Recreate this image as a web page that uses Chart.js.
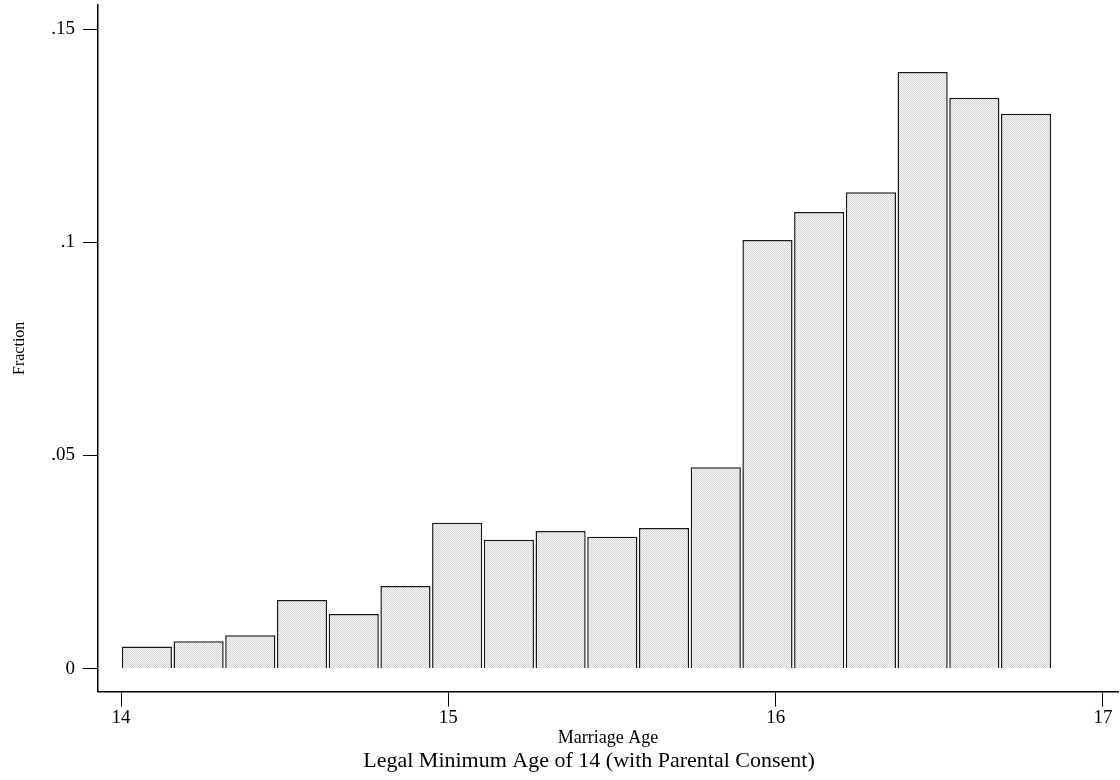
<!DOCTYPE html>
<html>
<head>
<meta charset="utf-8">
<script src="https://cdn.jsdelivr.net/npm/chart.js@4/dist/chart.umd.min.js"></script>
<style>
    html, body { margin: 0; padding: 0; background: #fff; }
    #marriage-age-hist { display: block; }
</style>
</head>
<body>
<canvas id="marriage-age-hist" width="1120" height="780"></canvas>
<script>
// histogram bins (centre of each bin, in years of age)
var binCenters = [14.079, 14.237, 14.395, 14.553, 14.711, 14.869, 15.027, 15.185, 15.343,
    15.501, 15.659, 15.817, 15.975, 16.133, 16.291, 16.449, 16.607, 16.765];
// fraction of marriages in each bin
var fractions = [0.0052, 0.0064, 0.0078, 0.0161, 0.0128, 0.0194, 0.0342, 0.0302, 0.0323,
    0.0309, 0.0330, 0.0472, 0.1005, 0.1071, 0.1117, 0.1399, 0.1339, 0.1301];

var xTicks = [14, 15, 16, 17];
var yTicks = [0, 0.05, 0.1, 0.15];
var yTickLabels = ['0', '.05', '.1', '.15'];

var titleText = 'Legal Minimum Age of 14 (with Parental Consent)';
var xTitle = 'Marriage Age';
var yTitle = 'Fraction';

// little dotted fill like the stata shading
function dotPattern() {
    var c = document.createElement('canvas');
    c.width = 2;
    c.height = 2;
    var g = c.getContext('2d');
    g.fillStyle = '#f7f7f7';
    g.fillRect(0, 0, 2, 2);
    g.fillStyle = '#d4d4d4';
    g.fillRect(0, 0, 1, 1);
    g.fillRect(1, 1, 1, 1);
    return g.createPattern(c, 'repeat');
}

var serif = '"Liberation Serif", "Times New Roman", serif';

// the caption under the plot sits a bit right of the page centre
var shiftTitle = {
    id: 'shiftTitle',
    afterLayout: function (chart) {
        if (chart.titleBlock) {
            chart.titleBlock.left = 60;
        }
    }
};

var config = {
    type: 'bar',
    data: {
        datasets: [{
            label: yTitle,
            data: binCenters.map(function (x, i) { return {x: x, y: fractions[i]}; }),
            backgroundColor: dotPattern(),
            borderColor: '#1a1a1a',
            borderWidth: 1.5,
            barPercentage: 0.97,
            categoryPercentage: 1,
        }]
    },
    options: {
        responsive: false,
        animation: false,
        devicePixelRatio: 1,
        layout: {
            padding: {left: 0, right: 2, top: 5, bottom: 0}
        },
        plugins: {
            legend: {display: false},
            tooltip: {enabled: false},
            title: {
                display: true,
                position: 'bottom',
                text: titleText,
                color: '#000',
                font: {family: serif, size: 22, weight: 'normal', lineHeight: 1.2},
                padding: {top: 0, bottom: 6}
            }
        },
        scales: {
            x: {
                type: 'linear',
                min: 13.9297,
                max: 17.0459,
                offset: false,
                afterBuildTicks: function (scale) {
                    scale.ticks = xTicks.map(function (v) { return {value: v}; });
                },
                afterFit: function (scale) {
                    scale.height = 56;
                    scale.paddingLeft = 0;
                    scale.paddingRight = 0;
                },
                grid: {
                    display: true,
                    drawOnChartArea: false,
                    drawTicks: true,
                    tickLength: 15,
                    color: '#000',
                    lineWidth: 1,
                    offset: false
                },
                border: {display: true, color: '#000', width: 1.5},
                ticks: {
                    color: '#000',
                    padding: 0,
                    maxRotation: 0,
                    autoSkip: false,
                    font: {family: serif, size: 19}
                },
                title: {
                    display: true,
                    text: xTitle,
                    color: '#000',
                    font: {family: serif, size: 18, lineHeight: 1},
                    padding: {top: 0, bottom: 0}
                }
            },
            y: {
                min: -0.00539,
                max: 0.15563,
                afterBuildTicks: function (scale) {
                    scale.ticks = yTicks.map(function (v) { return {value: v}; });
                },
                afterFit: function (scale) {
                    scale.width = 98;
                    scale.paddingTop = 0;
                    scale.paddingBottom = 0;
                },
                grid: {
                    display: true,
                    drawOnChartArea: false,
                    drawTicks: true,
                    tickLength: 15,
                    color: '#000',
                    lineWidth: 1
                },
                border: {display: true, color: '#000', width: 1.5},
                ticks: {
                    color: '#000',
                    padding: 8,
                    font: {family: serif, size: 19},
                    callback: function (value) {
                        var i = yTicks.indexOf(value);
                        return i >= 0 ? yTickLabels[i] : '';
                    }
                },
                title: {
                    display: true,
                    text: yTitle,
                    color: '#000',
                    font: {family: serif, size: 16, lineHeight: 1.2},
                    padding: {top: 10, bottom: 0}
                }
            }
        }
    },
    plugins: [shiftTitle]
};

var ctx = document.getElementById('marriage-age-hist').getContext('2d');
window.marriageAgeHist = new Chart(ctx, config);
</script>
</body>
</html>
